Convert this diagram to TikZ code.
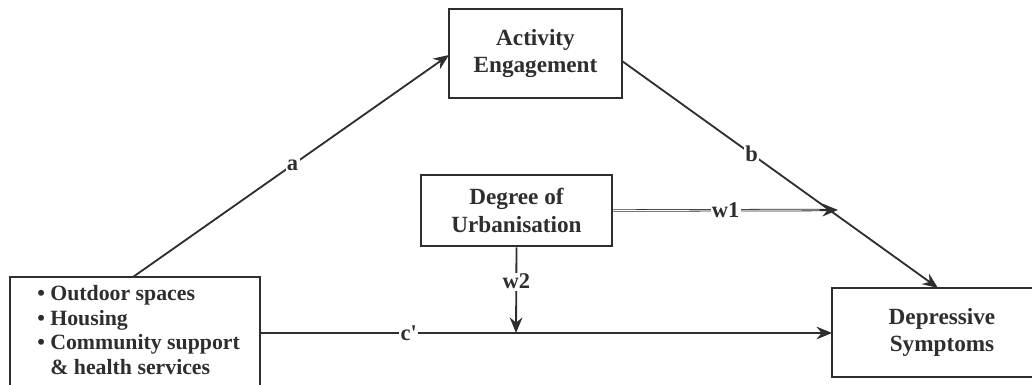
\documentclass[tikz,border=0pt]{standalone}
\usepackage{fontspec}
\setmainfont{Liberation Serif}
\usetikzlibrary{arrows.meta}
\begin{document}
\begin{tikzpicture}[x=0.025cm,y=-0.025cm,
  box/.style={draw=black!82, line width=2pt, fill=white, align=center,
    font=\bfseries\fontsize{16.5}{19.5}\selectfont, text=black!82, inner sep=0pt},
  link/.style={draw=black!82, line width=1.3pt, -{Stealth[length=11pt,width=9pt]}},
  lab/.style={fill=white, inner sep=1pt, font=\bfseries\fontsize{16}{17}\selectfont, text=black!82}]
\useasboundingbox (0,0) rectangle (1032,385);
% boxes
\node[box, minimum width=173*0.025cm, minimum height=89*0.025cm] (act) at (535.5,53.5) {Activity\\Engagement};
\node[box, minimum width=191*0.025cm, minimum height=71*0.025cm] (urb) at (516.5,210.5) {Degree of\\Urbanisation};
\node[box, minimum width=250*0.025cm, minimum height=115*0.025cm] (env) at (135,334.5) {};
\node[anchor=north west, align=left, font=\bfseries\fontsize{15.5}{17.6}\selectfont, text=black!82, inner sep=0pt] (envtxt) at (37,285)
  {\textbullet\ Outdoor spaces\\\textbullet\ Housing\\\textbullet\ Community support\\\phantom{\textbullet}\ \& health services};
\node[box, minimum width=220*0.025cm, minimum height=89*0.025cm] (dep) at (942,332.5) {Depressive\\Symptoms};
% junction points on the boxes and on the paths
\coordinate (acta) at (449,55);
\coordinate (envtop) at (133,277);
\coordinate (actb) at (622,61);
\coordinate (deptop) at (938,288);
\coordinate (envr) at (260,333);
\coordinate (depl) at (832,333);
\coordinate (w1end) at (838,210);
\coordinate (w2end) at (516,333);
% paths
\draw[link] (envtop) -- node[lab, pos=0.505] {a} (acta);
\draw[link] (actb) -- node[lab, pos=0.41] {b} (deptop);
\draw[link] (envr) -- node[lab, pos=0.26] {c\textquotesingle} (depl);
% moderator path drawn as a double line
\draw[link, line width=1.7pt] (urb.east) -- (w1end);
\draw[white, line width=0.6pt, shorten >=13pt] (urb.east) -- (w1end);
\path (urb.east) -- node[lab, pos=0.5] {w1} (w1end);
\draw[link] (urb.south) -- node[lab, pos=0.4] {w2} (w2end);
\end{tikzpicture}
\end{document}
